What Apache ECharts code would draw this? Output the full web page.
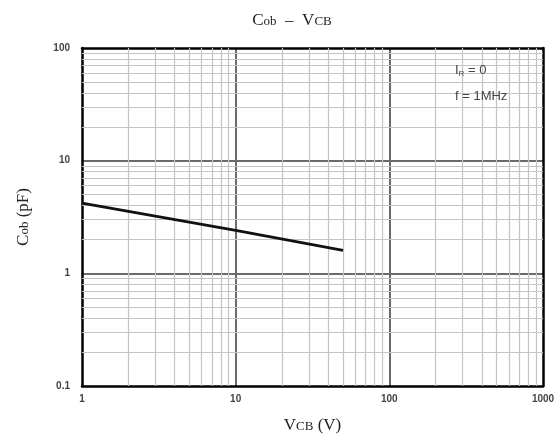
<!DOCTYPE html>
<html>
<head>
<meta charset="utf-8">
<script src="https://cdn.jsdelivr.net/npm/echarts@6/dist/echarts.min.js"></script>
<style>html,body{margin:0;padding:0;background:#fff}#c{width:560px;height:442px}</style>
</head>
<body>
<div id="c"></div>
<script>
// Data
const vcb = [1, 10, 50];
const cob = [4.2, 2.4, 1.6];
// Minor grid values (log decades)
const xMinor = [2,3,4,5,6,7,8,9,20,30,40,50,60,70,80,90,200,300,400,500,600,700,800,900];
const yMinor = [0.2,0.3,0.4,0.5,0.6,0.7,0.8,0.9,2,3,4,5,6,7,8,9,20,30,40,50,60,70,80,90];
const xTicks = [1, 10, 100, 1000];
const yTicks = [0.1, 1, 10, 100];

const chart = echarts.init(document.getElementById('c'));
const serif = '"Liberation Serif","DejaVu Serif",serif';
const sans = '"Liberation Sans","DejaVu Sans",sans-serif';

const minorLines = xMinor.map(v => ({xAxis: v})).concat(yMinor.map(v => ({yAxis: v})));
const richName = {
  a: {fontFamily: serif, fontSize: 17, fontWeight: 'normal', color: '#222'},
  b: {fontFamily: serif, fontSize: 13, fontWeight: 'normal', color: '#222', padding: [3,0,0,0]}
};

chart.setOption({
  animation: false,
  title: {
    text: '{a|C}{b|ob}{a|  –  V}{b|CB}',
    left: 287, top: 7, textAlign: 'center',
    textStyle: {fontWeight: 'normal', rich: richName}
  },
  grid: {left: 82, right: 17, top: 48, bottom: 56, show: false},
  xAxis: [{
    type: 'log', logBase: 10, min: 1, max: 1000,
    name: '{a|V}{b|CB}{a| (V)}', nameLocation: 'middle', nameGap: 31,
    nameTextStyle: {rich: richName},
    axisLine: {show: true, lineStyle: {color: '#000', width: 2.5}},
    axisTick: {show: false},
    axisLabel: {fontFamily: sans, fontSize: 10, fontWeight: 'bold', color: '#444', margin: 8,
      formatter: v => xTicks.includes(+v) ? String(+v) : ''},
    splitLine: {show: true, showMinLine: false, showMaxLine: false, lineStyle: {color: '#6a6a6a', width: 2}}
  }, {
    type: 'log', logBase: 10, min: 1, max: 1000, position: 'top',
    axisLine: {show: true, onZero: false, lineStyle: {color: '#000', width: 2.5}},
    axisTick: {show: false}, axisLabel: {show: false}, splitLine: {show: false}
  }],
  yAxis: [{
    type: 'log', logBase: 10, min: 0.1, max: 100,
    name: '{a|C}{b|ob}{a| (pF)}', nameLocation: 'middle', nameGap: 50, nameRotate: 90,
    nameTextStyle: {rich: richName},
    axisLine: {show: true, lineStyle: {color: '#000', width: 2.5}},
    axisTick: {show: false},
    axisLabel: {fontFamily: sans, fontSize: 10, fontWeight: 'bold', color: '#444', margin: 12,
      formatter: v => { const n = +(+v).toPrecision(3); return yTicks.includes(n) ? String(n) : ''; }},
    splitLine: {show: true, showMinLine: false, showMaxLine: false, lineStyle: {color: '#6a6a6a', width: 2}}
  }, {
    type: 'log', logBase: 10, min: 0.1, max: 100, position: 'right',
    axisLine: {show: true, onZero: false, lineStyle: {color: '#000', width: 2.5}},
    axisTick: {show: false}, axisLabel: {show: false}, splitLine: {show: false}
  }],
  graphic: [{
    type: 'text', left: 455, top: 64, z: 100,
    style: {text: '{a|I}{s|R}{a| = 0}', rich: {
      a: {fontFamily: sans, fontSize: 13, fill: '#444'},
      s: {fontFamily: sans, fontSize: 8, fill: '#444', padding: [6,0,0,0]}
    }}
  }, {
    type: 'text', left: 455, top: 90, z: 100,
    style: {text: 'f = 1MHz', font: '13px ' + sans, fill: '#444'}
  }],
  series: [{
    type: 'line', data: [], silent: true, z: 1,
    markLine: {
      silent: true, symbol: 'none', animation: false,
      label: {show: false},
      lineStyle: {color: '#c4c4c4', type: 'solid', width: 1.2},
      data: minorLines
    }
  }, {
    type: 'line', z: 5,
    data: vcb.map((x, i) => [x, cob[i]]),
    showSymbol: false, symbol: 'none',
    lineStyle: {color: '#111', width: 2.8}
  }]
});
</script>
</body>
</html>
